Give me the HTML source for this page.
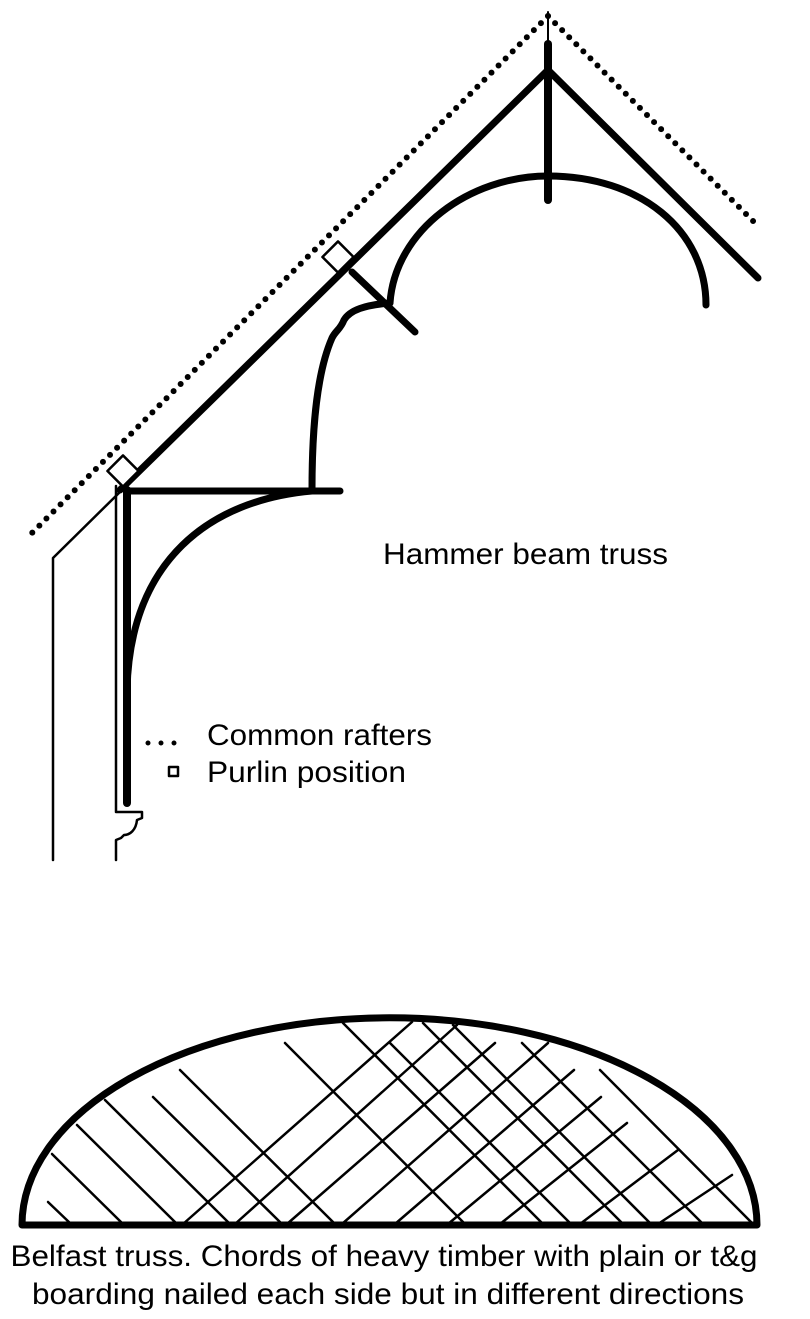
<!DOCTYPE html>
<html><head><meta charset="utf-8"><style>
html,body{margin:0;padding:0;background:#fff;width:810px;height:1319px;overflow:hidden}
svg{display:block}
text{font-family:"Liberation Sans",sans-serif;fill:#000}
</style></head><body>
<svg width="810" height="1319" viewBox="0 0 810 1319" xmlns="http://www.w3.org/2000/svg">
<g fill="none" stroke="#000" stroke-linecap="round" stroke-linejoin="round">
<path d="M548 16 L28 537" stroke-width="6" stroke-dasharray="0 10"/>
<path d="M548 16 L758 226" stroke-width="6" stroke-dasharray="0 10"/>
<line x1="548" y1="12" x2="548" y2="42" stroke-width="2"/>
<path d="M120 490 L548 70 L758 278" stroke-width="7"/>
<line x1="548" y1="44" x2="548" y2="200" stroke-width="8"/>
<path d="M390 303 C395 230 470 176 548 176 C640 176 706 230 706 305" stroke-width="7"/>
<line x1="352" y1="272" x2="415" y2="332" stroke-width="7"/>
<path d="M390 303 C365 305 350 310 344 320 C340 330 336 330 332 338 C318 370 312 420 312 490" stroke-width="7"/>
<line x1="127" y1="491" x2="340" y2="491" stroke-width="7"/>
<path d="M312 491 C210 500 130 560 127 690" stroke-width="7"/>
<line x1="127" y1="490" x2="127" y2="803" stroke-width="8"/>
<rect x="-11" y="-11" width="22" height="22" transform="translate(123 471) rotate(45)" stroke-width="2.5" fill="#fff"/>
<rect x="-11" y="-11" width="22" height="22" transform="translate(338 257) rotate(45)" stroke-width="2.5" fill="#fff"/>
<path d="M124 488 L53 558 L53 860" stroke-width="2.5"/>
<path d="M116 486 L116 812 L142 812 L142 818 L137 820 C136 830 130 835 124 835 L121 838 L116 840 L116 860" stroke-width="2.5"/>
<path d="M148 743 L176 743" stroke-width="5" stroke-dasharray="0 13"/>
<rect x="169" y="767" width="9" height="9" stroke-width="2.5"/>
</g>
<text x="207" y="745" font-size="30" textLength="225" lengthAdjust="spacingAndGlyphs">Common rafters</text>
<text x="207" y="782" font-size="30" textLength="199" lengthAdjust="spacingAndGlyphs">Purlin position</text>
<text x="383" y="564" font-size="30" textLength="285" lengthAdjust="spacingAndGlyphs">Hammer beam truss</text>
<g fill="none" stroke="#000" stroke-linecap="round">
<g stroke-width="2.5">
<line x1="48" y1="1202" x2="71" y2="1224"/>
<line x1="52" y1="1154" x2="123" y2="1224"/>
<line x1="77" y1="1125" x2="177" y2="1224"/>
<line x1="105" y1="1100" x2="230" y2="1224"/>
<line x1="153" y1="1097" x2="282" y2="1224"/>
<line x1="180" y1="1070" x2="335" y2="1224"/>
<line x1="285" y1="1043" x2="465" y2="1224"/>
<line x1="343" y1="1023" x2="543" y2="1224"/>
<line x1="390" y1="1043" x2="571" y2="1224"/>
<line x1="423" y1="1023" x2="623" y2="1224"/>
<line x1="453" y1="1025" x2="651" y2="1224"/>
<line x1="522" y1="1043" x2="703" y2="1224"/>
<line x1="600" y1="1070" x2="753" y2="1224"/>
<line x1="412" y1="1022" x2="183" y2="1224"/>
<line x1="457" y1="1025" x2="235" y2="1224"/>
<line x1="495" y1="1043" x2="287" y2="1224"/>
<line x1="548" y1="1043" x2="342" y2="1224"/>
<line x1="574" y1="1070" x2="395" y2="1224"/>
<line x1="601" y1="1097" x2="448" y2="1224"/>
<line x1="627" y1="1123" x2="500" y2="1224"/>
<line x1="678" y1="1150" x2="580" y2="1224"/>
<line x1="732" y1="1175" x2="658" y2="1224"/>
</g>
<path d="M22 1225 A367 207 0 0 1 757 1225 Z" stroke-width="7" stroke-linejoin="round"/>
</g>
<text x="384" y="1266" font-size="30" text-anchor="middle" textLength="747" lengthAdjust="spacingAndGlyphs">Belfast truss. Chords of heavy timber with plain or t&amp;g</text>
<text x="388" y="1304" font-size="30" text-anchor="middle" textLength="712" lengthAdjust="spacingAndGlyphs">boarding nailed each side but in different directions</text>
</svg>
</body></html>
